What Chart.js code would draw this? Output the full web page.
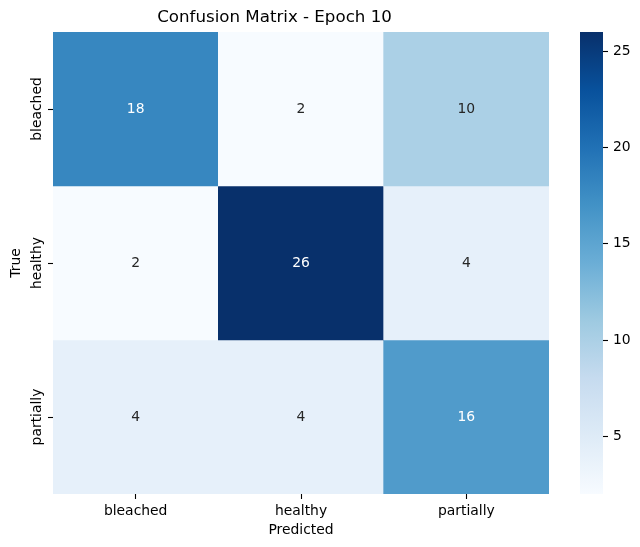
<!DOCTYPE html>
<html lang="en">
<head>
<meta charset="UTF-8">
<title>Confusion Matrix - Epoch 10</title>
<script src="https://cdn.jsdelivr.net/npm/chart.js"></script>
<style>
    html, body { margin: 0; padding: 0; background: #fff; }
    #wrap { position: relative; width: 640px; height: 547px; }
    #matrix { position: absolute; left: 0; top: 0; }
    #colorbar { position: absolute; left: 540px; top: 0; }
</style>
</head>
<body>
<div id="wrap">
    <canvas id="matrix" width="602" height="547"></canvas>
    <canvas id="colorbar" width="100" height="547"></canvas>
</div>
<script>
// data
const predictedLabels = ['bleached', 'healthy', 'partially'];
const trueLabels = ['bleached', 'healthy', 'partially'];
const bleachedRow = [18, 2, 10];
const healthyRow = [2, 26, 4];
const partiallyRow = [4, 4, 16];
const colorbarTicks = [5, 10, 15, 20, 25];
const vmin = 2;
const vmax = 26;

const rows = [bleachedRow, healthyRow, partiallyRow];

// matplotlib "Blues" stops
const blues = [
    [247, 251, 255], [222, 235, 247], [198, 219, 239], [158, 202, 225],
    [107, 174, 214], [66, 146, 198], [33, 113, 181], [8, 81, 156], [8, 48, 107]
];

function bluesRgb(v) {
    let t = (v - vmin) / (vmax - vmin);
    t = Math.max(0, Math.min(1, t)) * (blues.length - 1);
    const i = Math.min(Math.floor(t), blues.length - 2);
    const f = t - i;
    return blues[i].map((c, k) => Math.round(c + (blues[i + 1][k] - c) * f));
}
function bluesColor(v) {
    const c = bluesRgb(v);
    return 'rgb(' + c[0] + ',' + c[1] + ',' + c[2] + ')';
}
// seaborn picks dark or white annotation text by luminance
function textColor(v) {
    const lin = bluesRgb(v).map(c => {
        c = c / 255;
        return c <= 0.03928 ? c / 12.92 : Math.pow((c + 0.055) / 1.055, 2.4);
    });
    const lum = 0.2126 * lin[0] + 0.7152 * lin[1] + 0.0722 * lin[2];
    return lum > 0.408 ? '#262626' : '#ffffff';
}

const font = { family: 'DejaVu Sans', size: 13.9 };

const cellText = {
    id: 'cellText',
    afterDatasetsDraw(chart) {
        const ctx = chart.ctx;
        ctx.save();
        ctx.font = font.size + 'px "' + font.family + '"';
        ctx.textAlign = 'center';
        ctx.textBaseline = 'middle';
        chart.data.datasets.forEach((ds, r) => {
            chart.getDatasetMeta(r).data.forEach((bar, c) => {
                const v = ds.counts[c];
                const p = bar.getCenterPoint();
                ctx.fillStyle = textColor(v);
                ctx.fillText(String(v), p.x, p.y);
            });
        });
        ctx.restore();
    }
};

new Chart(document.getElementById('matrix'), {
    type: 'bar',
    data: {
        labels: predictedLabels,
        datasets: rows.map((row, r) => ({
            label: trueLabels[r],
            data: row.map(() => 1),
            counts: row,
            backgroundColor: row.map(bluesColor),
            borderWidth: 0,
            barPercentage: 1,
            categoryPercentage: 1
        }))
    },
    options: {
        responsive: false,
        animation: false,
        layout: { padding: { left: 0, right: 53, top: 0, bottom: 0 } },
        plugins: {
            legend: { display: false },
            tooltip: { enabled: false },
            title: {
                display: true,
                text: 'Confusion Matrix - Epoch 10',
                color: '#000',
                font: { family: 'DejaVu Sans', size: 16.67, weight: 'normal' },
                padding: { top: 8, bottom: 4 }
            }
        },
        scales: {
            x: {
                stacked: true,
                offset: true,
                afterFit: s => { s.height = 53; },
                grid: { offset: false, drawOnChartArea: false, tickLength: 5, tickWidth: 1.1, tickColor: '#000' },
                border: { display: false },
                ticks: { font: font, color: '#000', padding: 4, maxRotation: 0 },
                title: { display: true, text: 'Predicted', font: font, color: '#000', padding: { top: 0, bottom: 8.7 } }
            },
            y: {
                type: 'linear',
                stacked: true,
                min: 0,
                max: 3,
                reverse: true,
                afterBuildTicks: s => { s.ticks = trueLabels.map((_, i) => ({ value: i + 0.5 })); },
                afterFit: s => { s.width = 53; },
                grid: { drawOnChartArea: false, tickLength: 5, tickWidth: 1.1, tickColor: '#000' },
                border: { display: false },
                ticks: {
                    callback: v => trueLabels[Math.floor(v)],
                    font: font,
                    color: '#000',
                    minRotation: 90,
                    maxRotation: 90,
                    crossAlign: 'center',
                    padding: -21
                },
                title: { display: true, text: 'True', font: font, color: '#000', padding: { top: 7.7, bottom: 0 } }
            }
        }
    },
    plugins: [cellText]
});

function colorbarFill(ctx) {
    const area = ctx.chart.chartArea;
    if (!area) return null;
    const g = ctx.chart.ctx.createLinearGradient(0, area.bottom, 0, area.top);
    blues.forEach((c, i) => {
        g.addColorStop(i / (blues.length - 1), 'rgb(' + c.join(',') + ')');
    });
    return g;
}

new Chart(document.getElementById('colorbar'), {
    type: 'bar',
    data: {
        labels: [''],
        datasets: [{
            data: [[vmin, vmax]],
            backgroundColor: colorbarFill,
            borderWidth: 0,
            barPercentage: 1,
            categoryPercentage: 1
        }]
    },
    options: {
        responsive: false,
        animation: false,
        layout: { padding: { left: 40, right: 0, top: 32, bottom: 53 } },
        plugins: { legend: { display: false }, tooltip: { enabled: false } },
        scales: {
            x: { display: false },
            y: {
                position: 'right',
                min: vmin,
                max: vmax,
                afterBuildTicks: s => { s.ticks = colorbarTicks.map(v => ({ value: v })); },
                afterFit: s => { s.width = 37; },
                grid: { drawOnChartArea: false, tickLength: 5, tickWidth: 1.1, tickColor: '#000' },
                border: { display: false },
                ticks: { font: font, color: '#000', padding: 5 }
            }
        }
    }
});
</script>
</body>
</html>
